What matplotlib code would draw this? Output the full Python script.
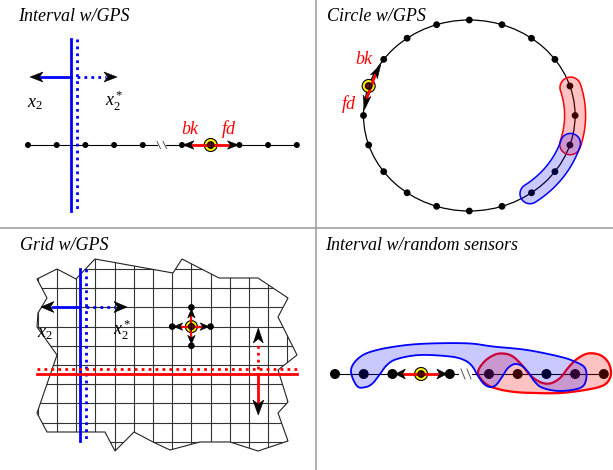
import numpy as np
import matplotlib.pyplot as plt
from matplotlib.patches import Polygon, Circle, Ellipse

plt.rcParams["mathtext.fontset"] = "custom"
plt.rcParams["mathtext.it"] = "Liberation Serif:italic"
plt.rcParams["mathtext.rm"] = "Liberation Serif"

SERIF = "Liberation Serif"
BLUE = "#0000ff"
RED = "#ff0000"
YELLOW = "#ffee00"
BLUE_FILL = (0.0, 0.0, 1.0, 0.21)
RED_FILL = (1.0, 0.0, 0.0, 0.24)
DIVIDER = "#9a9a9a"

# ---------------- data ----------------
TITLES = ["Interval w/GPS", "Circle w/GPS", "Grid w/GPS", "Interval w/random sensors"]

# interval panels: node slots on either side of the break
LEFT_SLOTS = [0, 1, 2, 3, 4]
RIGHT_SLOTS = [0, 1, 2, 3, 4]
Q1_SENSOR_SLOT = 1        # right-hand segment
Q4_SENSOR_SLOT = 3        # left-hand segment

# circle panel: 20 nodes, index 0 at the top, going clockwise
RING_N = 20
RING_SENSOR = 16
RING_BK = 17
RING_FD = 15
RING_RED = [4, 5, 6]
RING_BLUE = [6, 7, 8]

# grid panel
GRID_COLS = list(range(-1, 13))
GRID_ROWS = list(range(0, 10))
GRID_SENSOR = (7, 3)
GRID_OUTLINE = [(37, 279), (57, 269), (76, 279), (95, 259), (173, 273), (182, 259),
                (219, 278), (258, 278), (288, 298), (278, 317), (297, 355), (278, 370),
                (288, 402), (278, 413), (288, 441), (258, 451), (230, 442), (200, 442),
                (170, 450), (153, 442), (134, 432), (115, 451), (105, 432), (47, 432),
                (37, 413), (57, 355), (37, 327), (38, 313), (47, 298)]

# random-sensor panel: hand drawn sensing regions
Q4_BLUE_BLOB = [(351, 370), (360, 357), (377, 350), (407, 345), (437, 343.3), (470, 343.5),
                (493, 346.5), (527, 350), (560, 356.7), (575, 361.7), (585, 368), (586, 380),
                (580, 388), (560, 391), (543, 388), (535, 382), (528, 372), (522, 366),
                (515, 364), (508, 368), (502, 377), (496, 385), (490, 387), (484, 384),
                (478, 376), (472, 366), (464, 360), (450, 356.5), (420, 355), (397, 359),
                (387, 365), (380, 374), (373, 383), (366, 387), (357, 386)]
Q4_RED_BLOB = [(478, 373), (484, 362), (494, 355), (503, 353.5), (512, 356), (521, 364),
               (530, 375), (540, 382), (550, 383.5), (560, 378), (568, 368), (577, 359),
               (588, 353.5), (600, 355), (608, 362), (611, 372), (609, 380), (602, 386),
               (585, 390), (560, 393), (535, 393), (515, 392), (498, 389), (486, 384)]


# ---------------- helpers ----------------
def head(ax, tip, frm, L=12, W=9, z=9):
    tip = np.asarray(tip, float)
    d = tip - np.asarray(frm, float)
    d /= np.hypot(*d)
    n = np.array([-d[1], d[0]])
    base = tip - L * d
    notch = tip - 0.72 * L * d
    pts = [tip, base + W / 2 * n, notch, base - W / 2 * n]
    ax.add_patch(Polygon(pts, closed=True, fc="k", ec="k", lw=0.4, zorder=z))


def dot(ax, x, y, r, z=5):
    ax.add_patch(Circle((x, y), r, fc="k", ec="none", zorder=z))


def sensor(ax, x, y, r=6.5):
    ax.add_patch(Circle((x, y), r, fc=YELLOW, ec="k", lw=0.8, zorder=7))
    ax.add_patch(Circle((x, y), r * 0.5, fc="#7a0000", ec="k", lw=0.8, zorder=8))
    ax.plot([x, x], [y - r * 0.5, y + r * 0.5], color="k", lw=0.7, zorder=10)


def smooth_closed(pts, n=10):
    P = np.asarray(pts, float)
    m = len(P)
    t = np.linspace(0, 1, n, endpoint=False)[:, None]
    out = []
    for i in range(m):
        p0, p1, p2, p3 = P[i - 1], P[i], P[(i + 1) % m], P[(i + 2) % m]
        out.append(0.5 * (2 * p1 + (-p0 + p2) * t + (2 * p0 - 5 * p1 + 4 * p2 - p3) * t ** 2
                          + (-p0 + 3 * p1 - 3 * p2 + p3) * t ** 3))
    return np.vstack(out)


def ring_xy(deg):
    t = np.radians(deg)
    return CX + RX * np.cos(t), CY - RY * np.sin(t)


def ring_capsule(a0, a1, r):
    x, y = ring_xy(np.linspace(a0, a1, 80))
    dx, dy = np.gradient(x), np.gradient(y)
    L = np.hypot(dx, dy)
    nx, ny = -dy / L, dx / L
    left = np.c_[x + r * nx, y + r * ny]
    right = np.c_[x - r * nx, y - r * ny]
    s = np.linspace(0, np.pi, 30)
    te = np.arctan2(ny[-1], nx[-1]) - s
    ts = np.arctan2(ny[0], nx[0]) + np.pi - s
    cap_e = np.c_[x[-1] + r * np.cos(te), y[-1] + r * np.sin(te)]
    cap_s = np.c_[x[0] + r * np.cos(ts), y[0] + r * np.sin(ts)]
    return np.vstack([left, cap_e, right[::-1], cap_s])


def title(ax, x, y, s):
    ax.text(x, y, s, family=SERIF, style="italic", fontsize=13, ha="left", va="baseline")


def serif(ax, x, y, s, color="k", size=13):
    ax.text(x, y, s, family=SERIF, style="italic", fontsize=size, color=color,
            ha="center", va="center")


fig = plt.figure(figsize=(6.13, 4.70), dpi=100)
ax = fig.add_axes([0, 0, 1, 1])
ax.set_xlim(0, 613)
ax.set_ylim(470, 0)
ax.set_aspect("equal")
ax.axis("off")

# dividers
ax.plot([316, 316], [0, 470], color=DIVIDER, lw=1.1)
ax.plot([0, 613], [228, 228], color=DIVIDER, lw=1.1)

title(ax, 18, 21, TITLES[0])
title(ax, 327, 21, TITLES[1])
title(ax, 20, 250, TITLES[2])
title(ax, 325, 250, TITLES[3])

STEP = 28.7

# ---------------- (1) interval w/GPS ----------------
y1 = 145
xl = [28 + STEP * s for s in LEFT_SLOTS]
xr = [182 + STEP * s for s in RIGHT_SLOTS]
ax.plot([xl[0], 157], [y1, y1], color="k", lw=0.8, zorder=2)
ax.plot([166, xr[-1]], [y1, y1], color="k", lw=0.8, zorder=2)
for x0 in (157, 163):
    ax.plot([x0, x0 + 3.5], [y1 - 3.5, y1 + 3.5], color="#555555", lw=0.7)
for x in xl:
    dot(ax, x, y1, 3)
for i, x in enumerate(xr):
    if i != Q1_SENSOR_SLOT:
        dot(ax, x, y1, 3)
xs = xr[Q1_SENSOR_SLOT]
ax.plot([xr[0] + 10, xr[2] - 10], [y1, y1], color=RED, lw=2, zorder=8)
sensor(ax, xs, y1)
head(ax, (xr[0] + 1, y1), (xs, y1), L=11, W=8.5)
head(ax, (xr[2] - 1, y1), (xs, y1), L=11, W=8.5)
serif(ax, 190, 129, "bk", RED)
serif(ax, 229, 129, "fd", RED)

# blue cut
ax.plot([70.7, 70.7], [39, 211], color=BLUE, lw=2, zorder=4)
ax.plot([76.7, 76.7], [39, 211], color=BLUE, lw=2, ls=(0, (1, 1.5)), zorder=4)
ax.plot([70.7, 40], [77, 77], color=BLUE, lw=2, zorder=4)
head(ax, (30, 77), (70, 77), L=13, W=10)
ax.plot([76.7, 106], [77, 77], color=BLUE, lw=2, ls=(0, (1, 1.5)), zorder=4)
head(ax, (117, 77), (76, 77), L=13, W=10)
serif(ax, 35, 103, r"$x_2$")
serif(ax, 114, 101, r"$x_2^*$")

# ---------------- (2) circle w/GPS ----------------
CX, CY, RX, RY = 469.3, 115.5, 105.8, 95.5
ax.add_patch(Ellipse((CX, CY), 2 * RX, 2 * RY, fc="none", ec="k", lw=0.9, zorder=2))
ang = [90 - 360 / RING_N * i for i in range(RING_N)]
for i in range(RING_N):
    if i != RING_SENSOR:
        dot(ax, *ring_xy(ang[i]), 3.4)

ra, rb = ang[RING_RED[0]], ang[RING_RED[-1]]
ax.add_patch(Polygon(ring_capsule(ra - 1, rb + 0.5, 10.5), closed=True,
                     fc=RED_FILL, ec=RED, lw=1.1, zorder=6))
ba, bb = ang[RING_BLUE[0]], ang[RING_BLUE[-1]]
ax.add_patch(Polygon(ring_capsule(ba + 1, bb - 1, 10), closed=True,
                     fc=BLUE_FILL, ec=BLUE, lw=1.1, zorder=6))

sx, sy = ring_xy(ang[RING_SENSOR])
bx, by = ring_xy(ang[RING_BK])
fx, fy = ring_xy(ang[RING_FD])
vb = np.array([bx - sx, by - sy]); vb /= np.hypot(*vb)
vf = np.array([fx - sx, fy - sy]); vf /= np.hypot(*vf)
tb = np.array([bx, by]) - 6 * vb
tf = np.array([fx, fy]) - 6 * vf
ax.plot([tb[0] - 10 * vb[0], tf[0] - 10 * vf[0]], [tb[1] - 10 * vb[1], tf[1] - 10 * vf[1]],
        color=RED, lw=2, zorder=8)
sensor(ax, sx, sy)
head(ax, tb, (sx, sy), L=14, W=8)
head(ax, tf, (sx, sy), L=14, W=8)
serif(ax, 364, 59, "bk", RED)
serif(ax, 349, 104, "fd", RED)

# ---------------- (3) grid w/GPS ----------------
G0X, G0Y, GS = 57, 269, 19.2
outline = Polygon(GRID_OUTLINE, closed=True, fc="none", ec="#222222", lw=0.8, zorder=3)
ax.add_patch(outline)
for c in GRID_COLS:
    x = G0X + GS * c
    ln, = ax.plot([x, x], [240, 460], color="#333333", lw=0.8, zorder=2)
    ln.set_clip_path(outline)
for r in GRID_ROWS:
    y = G0Y + GS * r
    ln, = ax.plot([20, 305], [y, y], color="#333333", lw=0.8, zorder=2)
    ln.set_clip_path(outline)

gx = G0X + GS * GRID_SENSOR[0]
gy = G0Y + GS * GRID_SENSOR[1]
for ddx, ddy in [(-1, 0), (1, 0), (0, -1), (0, 1)]:
    nx_, ny_ = gx + GS * ddx, gy + GS * ddy
    ax.plot([gx, nx_ - 7 * ddx], [gy, ny_ - 7 * ddy], color=RED, lw=1.6, zorder=8)
    dot(ax, nx_, ny_, 3.3, z=9)
    head(ax, (nx_ - 1.5 * ddx, ny_ - 1.5 * ddy), (gx, gy), L=9, W=7.5)
sensor(ax, gx, gy, r=6)

# blue cut
ax.plot([80, 80], [269, 441], color=BLUE, lw=2, zorder=5)
ax.plot([86, 86], [269, 441], color=BLUE, lw=2, ls=(0, (1, 1.5)), zorder=5)
ax.plot([80, 53], [307, 307], color=BLUE, lw=2, zorder=5)
head(ax, (41, 307), (80, 307), L=13, W=11)
ax.plot([86, 115], [307, 307], color=BLUE, lw=2, ls=(0, (1, 1.5)), zorder=5)
head(ax, (127, 307), (86, 307), L=13, W=11)
serif(ax, 45, 333, r"$x_2$")
serif(ax, 122, 330, r"$x_2^*$")

# red cut
ax.plot([37, 297], [374, 374], color=RED, lw=2, zorder=5)
ax.plot([37, 297], [369, 369], color=RED, lw=2, ls=(0, (1, 1.5)), zorder=5)
ax.plot([258.3, 258.3], [374, 402], color=RED, lw=2, zorder=5)
head(ax, (258.3, 415), (258.3, 374), L=15, W=11)
ax.plot([258.3, 258.3], [369, 342], color=RED, lw=2, ls=(0, (1, 1.5)), zorder=5)
head(ax, (258.3, 328), (258.3, 369), L=15, W=10)

# ---------------- (4) interval w/random sensors ----------------
y4 = 374
ql = [335 + STEP * s for s in LEFT_SLOTS]
qr = [489 + STEP * s for s in RIGHT_SLOTS]
ax.plot([ql[0], 458], [y4, y4], color="k", lw=0.8, zorder=2)
ax.plot([472, qr[-1]], [y4, y4], color="k", lw=0.8, zorder=2)
for x0 in (461, 467):
    ax.plot([x0, x0 + 4], [y4 - 5, y4 + 5], color="#555555", lw=0.7)
for i, x in enumerate(ql):
    if i != Q4_SENSOR_SLOT:
        dot(ax, x, y4, 5)
for x in qr:
    dot(ax, x, y4, 5)

ax.add_patch(Polygon(smooth_closed(Q4_RED_BLOB), closed=True, fc=RED_FILL, ec=RED,
                     lw=1.6, zorder=6))
ax.add_patch(Polygon(smooth_closed(Q4_BLUE_BLOB), closed=True, fc=BLUE_FILL, ec=BLUE,
                     lw=1.3, zorder=6))

qs = ql[Q4_SENSOR_SLOT]
ax.plot([ql[Q4_SENSOR_SLOT - 1] + 12, ql[Q4_SENSOR_SLOT + 1] - 12], [y4, y4],
        color=RED, lw=2, zorder=8)
sensor(ax, qs, y4)
head(ax, (ql[Q4_SENSOR_SLOT - 1] + 3, y4), (qs, y4), L=10, W=10)
head(ax, (ql[Q4_SENSOR_SLOT + 1] - 3, y4), (qs, y4), L=10, W=10)

fig.savefig("out.png", dpi=100)
